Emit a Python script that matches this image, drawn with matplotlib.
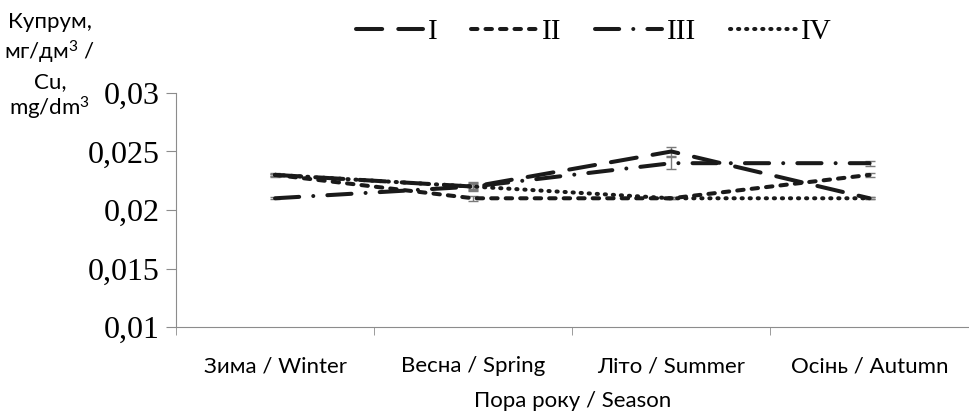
import matplotlib

matplotlib.use("Agg")
import matplotlib.pyplot as plt
from matplotlib.ticker import FixedLocator


# Chart data
SEASONS = ["Зима / Winter", "Весна / Spring", "Літо / Summer", "Осінь / Autumn"]
SERIES_NAMES = ["I", "II", "III", "IV"]
VALUES_I = [0.023, 0.022, 0.025, 0.021]
VALUES_II = [0.023, 0.021, 0.021, 0.023]
VALUES_III = [0.021, 0.022, 0.024, 0.024]
VALUES_IV = [0.023, 0.022, 0.021, 0.021]
ERR_I = [0.0002, 0.0004, 0.0004, 0.0001]
ERR_II = [0.0001, 0.0002, 0.0001, 0.0002]
ERR_III = [0.0001, 0.0003, 0.0005, 0.0002]
ERR_IV = [0.0001, 0.0002, 0.0001, 0.0001]
Y_TICKS = [0.01, 0.015, 0.02, 0.025, 0.03]
Y_TICK_LABELS = ["0,01", "0,015", "0,02", "0,025", "0,03"]
Y_LABEL_LINES = ["Купрум,", "мг/дм$^3$ /", "Cu,", "mg/dm$^3$"]

LINE_COLOR = "#1a1a1a"
AXIS_COLOR = "#8c8c8c"
SANS = ["Lato", "DejaVu Sans"]
SERIF = ["Liberation Serif", "DejaVu Serif"]

STYLES = [
    (0, (6.5, 4)),
    (0, (1.6, 2.0)),
    (0, (6, 3.5, 0.01, 3.5)),
    (0, (0.3, 1.7)),
]

plt.rcParams["mathtext.fontset"] = "custom"
plt.rcParams["mathtext.rm"] = "Lato"
plt.rcParams["mathtext.it"] = "Lato:italic"
plt.rcParams["mathtext.bf"] = "Lato:bold"


def main() -> None:
    fig = plt.figure(figsize=(9.69, 4.15), dpi=100)
    ax = fig.add_axes([0.1816, 0.212, 0.818, 0.564])

    x = list(range(len(SEASONS)))
    series = [
        (VALUES_I, ERR_I),
        (VALUES_II, ERR_II),
        (VALUES_III, ERR_III),
        (VALUES_IV, ERR_IV),
    ]
    for (values, errors), name, style in zip(series, SERIES_NAMES, STYLES):
        ax.errorbar(
            x, values, yerr=errors, color=LINE_COLOR, linewidth=2.9,
            linestyle=style, dash_capstyle="round", ecolor="#7a7a7a",
            elinewidth=1, capsize=3.6, capthick=1, label=name,
        )

    ax.set_xlim(-0.5, 3.5)
    ax.set_ylim(0.01, 0.03)

    ax.set_yticks(Y_TICKS)
    ax.set_yticklabels(Y_TICK_LABELS, family=SERIF, fontsize=23)
    ax.tick_params(axis="y", length=7, color=AXIS_COLOR, pad=5)

    ax.set_xticks(x)
    ax.set_xticklabels(SEASONS, family=SANS, fontsize=16)
    ax.tick_params(axis="x", which="major", length=0, pad=21)
    ax.xaxis.set_minor_locator(FixedLocator([-0.5, 0.5, 1.5, 2.5, 3.5]))
    ax.tick_params(axis="x", which="minor", length=6, color=AXIS_COLOR)

    ax.set_xlabel("Пора року / Season", family=SANS, fontsize=16, labelpad=11)

    for side in ["top", "right"]:
        ax.spines[side].set_visible(False)
    for side in ["left", "bottom"]:
        ax.spines[side].set_color(AXIS_COLOR)

    # y-axis title sits above the tick labels, one line at a time
    for line, y_px in zip(Y_LABEL_LINES, [22, 52, 82, 108]):
        fig.text(
            50 / 969, 1 - y_px / 415, line, family=SANS, fontsize=16,
            ha="center", va="center",
        )

    handles, labels = ax.get_legend_handles_labels()
    handles = [h[0] for h in handles]
    fig.legend(
        handles, labels, loc="center", bbox_to_anchor=(0.613, 0.923), ncol=4,
        frameon=False, prop={"family": SERIF, "size": 21}, handlelength=2.3,
        handletextpad=0.15, columnspacing=1.15,
    )

    fig.savefig("out.png", dpi=100)
    plt.close(fig)


if __name__ == "__main__":
    main()
